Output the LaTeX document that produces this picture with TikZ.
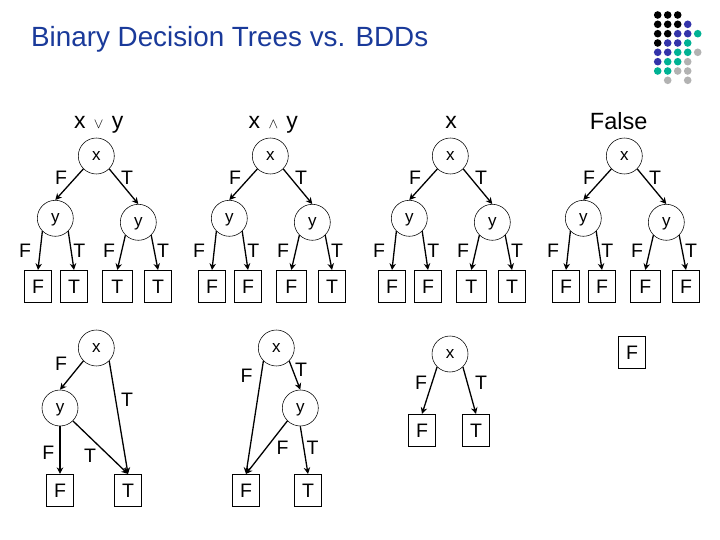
\documentclass[tikz,border=0pt]{standalone}
\usepackage{fontspec}
\setmainfont{Liberation Sans}
\usetikzlibrary{arrows.meta}
\definecolor{titleblue}{HTML}{1A3A9A}
\definecolor{dotk}{HTML}{000000}
\definecolor{dotb}{HTML}{3333AA}
\definecolor{dotg}{HTML}{00B294}
\definecolor{dotx}{HTML}{B2B2B2}
\tikzset{
  x=1pt,y=-1pt,
  decision/.style={circle,draw=black,line width=0.55pt,minimum size=36pt,inner sep=0pt,text height=8.8pt,text depth=0pt,font=\fontsize{17}{17}\selectfont},
  leafbox/.style={rectangle,draw=black,line width=0.7pt,minimum width=27.3pt,minimum height=32pt,inner sep=0pt,font=\fontsize{19.5}{19.5}\selectfont},
  widebox/.style={leafbox,minimum width=30pt},
  edgelabel/.style={inner sep=0pt,font=\fontsize{19.5}{19.5}\selectfont},
  heading/.style={inner sep=0pt,text height=12pt,text depth=0pt,font=\fontsize{23}{23}\selectfont},
  falsehead/.style={inner sep=0pt,font=\fontsize{23.5}{23.5}\selectfont},
  titletext/.style={inner sep=0pt,anchor=west,text=titleblue,font=\fontsize{27.8}{27.8}\selectfont},
  arc/.style={draw=black,line width=1.3pt,-{Stealth[length=6.5pt,width=6.5pt]}},
  gdot/.style={circle,fill=#1,draw=none,minimum size=7.6pt,inner sep=0pt}
}
\newcommand{\fulltree}[6]{%
  \begin{scope}[shift={(#2,0)},name prefix=#1]
    \node[decision] (r) at (96.3,156) {x};
    \node[decision] (yl) at (55.3,218.3) {y};
    \node[decision] (yr) at (138.3,222.3) {y};
    \node[leafbox] (a) at (38,286.3) {#3};
    \node[leafbox] (b) at (74,286.3) {#4};
    \node[widebox] (c) at (117.3,286.3) {#5};
    \node[leafbox] (d) at (158,286.3) {#6};
    \draw[arc] (r.225) -- (yl.90);
    \draw[arc] (r.-45) -- (yr.90);
    \draw[arc] (yl.225) -- (a.north);
    \draw[arc] (yl.-45) -- (b.north);
    \draw[arc] (yr.225) -- (c.north);
    \draw[arc] (yr.-45) -- (d.north);
    \node[edgelabel] (l1) at (61,178) {F};
    \node[edgelabel] (l2) at (127,178) {T};
    \node[edgelabel] (l3) at (25,250.3) {F};
    \node[edgelabel] (l4) at (79.3,250.3) {T};
    \node[edgelabel] (l5) at (109,250.3) {F};
    \node[edgelabel] (l6) at (163,250.3) {T};
  \end{scope}}
\begin{document}
\begin{tikzpicture}
\useasboundingbox (0,0) rectangle (720,540);
\fill[white] (0,0) rectangle (720,540);
\node[titletext] (title) at (31,39) {Binary Decision Trees vs. BDDs};
% dots
\foreach \c [count=\i] in {dotk,dotk,dotk}{\node[gdot=\c] (da\i) at (647.7+10*\i,15) {};}
\foreach \c [count=\i] in {dotk,dotk,dotk,dotb}{\node[gdot=\c] (db\i) at (647.7+10*\i,24.3) {};}
\foreach \c [count=\i] in {dotk,dotk,dotb,dotb,dotg}{\node[gdot=\c] (dc\i) at (647.7+10*\i,33.7) {};}
\foreach \c [count=\i] in {dotk,dotb,dotb,dotg}{\node[gdot=\c] (dd\i) at (647.7+10*\i,43) {};}
\foreach \c [count=\i] in {dotb,dotb,dotg,dotg,dotx}{\node[gdot=\c] (de\i) at (647.7+10*\i,52.3) {};}
\foreach \c [count=\i] in {dotb,dotg,dotg,dotx}{\node[gdot=\c] (df\i) at (647.7+10*\i,61.7) {};}
\foreach \c [count=\i] in {dotg,dotg,dotx,dotx}{\node[gdot=\c] (dg\i) at (647.7+10*\i,71) {};}
\node[gdot=dotx] (dh1) at (667.7,80.3) {};
\node[gdot=dotx] (dh2) at (687.7,80.3) {};
% headings
\node[heading] (h1) at (98.7,122.7) {x\hspace{2pt} {\fontsize{15.5}{15.5}\selectfont$\vee$} \hspace{2pt}y};
\node[heading] (h2) at (273.3,122.7) {x\hspace{2pt} {\fontsize{15.5}{15.5}\selectfont$\wedge$} \hspace{2pt}y};
\node[heading] (h3) at (451,122.7) {x};
\node[falsehead] (h4) at (618.7,120.7) {False};
% full trees
\fulltree{ta}{0}{F}{T}{T}{T}
\fulltree{tb}{174}{F}{F}{F}{T}
\fulltree{tc}{354}{F}{F}{T}{T}
\fulltree{td}{528}{F}{F}{F}{F}
% reduced BDD for x or y
\node[decision] (ar) at (96.3,348) {x};
\node[decision] (ay) at (60,408) {y};
\node[leafbox] (af) at (60,490.3) {F};
\node[leafbox] (at) at (128,490.3) {T};
\draw[arc] (ar.225) -- (ay.90);
\draw[arc] (ar.-45) -- (at.north);
\draw[arc] (ay.-90) -- (af.north);
\draw[arc] (ay.-45) -- (at.north);
\node[edgelabel] (al1) at (61,363.3) {F};
\node[edgelabel] (al2) at (127,400) {T};
\node[edgelabel] (al3) at (48.3,453) {F};
\node[edgelabel] (al4) at (90,456) {T};
% reduced BDD for x and y
\node[decision] (br) at (276.3,348) {x};
\node[decision] (by) at (300.3,408) {y};
\node[leafbox] (bf) at (246,490.3) {F};
\node[leafbox] (bt) at (308,490.3) {T};
\draw[arc] (br.225) -- (bf.north);
\draw[arc] (br.-45) -- (by.90);
\draw[arc] (by.225) -- (bf.north);
\draw[arc] (by.-90) -- (bt.north);
\node[edgelabel] (bl1) at (246.7,376) {F};
\node[edgelabel] (bl2) at (301,370) {T};
\node[edgelabel] (bl3) at (282.7,448) {F};
\node[edgelabel] (bl4) at (312.7,448) {T};
% reduced BDD for x
\node[decision] (cr) at (450,354) {x};
\node[leafbox] (cf) at (422,430.3) {F};
\node[leafbox] (ct) at (476,430.3) {T};
\draw[arc] (cr.225) -- (cf.north);
\draw[arc] (cr.-45) -- (ct.north);
\node[edgelabel] (cl1) at (421,382.3) {F};
\node[edgelabel] (cl2) at (481,382.3) {T};
% false
\node[leafbox] (df) at (632,352.3) {F};
\end{tikzpicture}
\end{document}
